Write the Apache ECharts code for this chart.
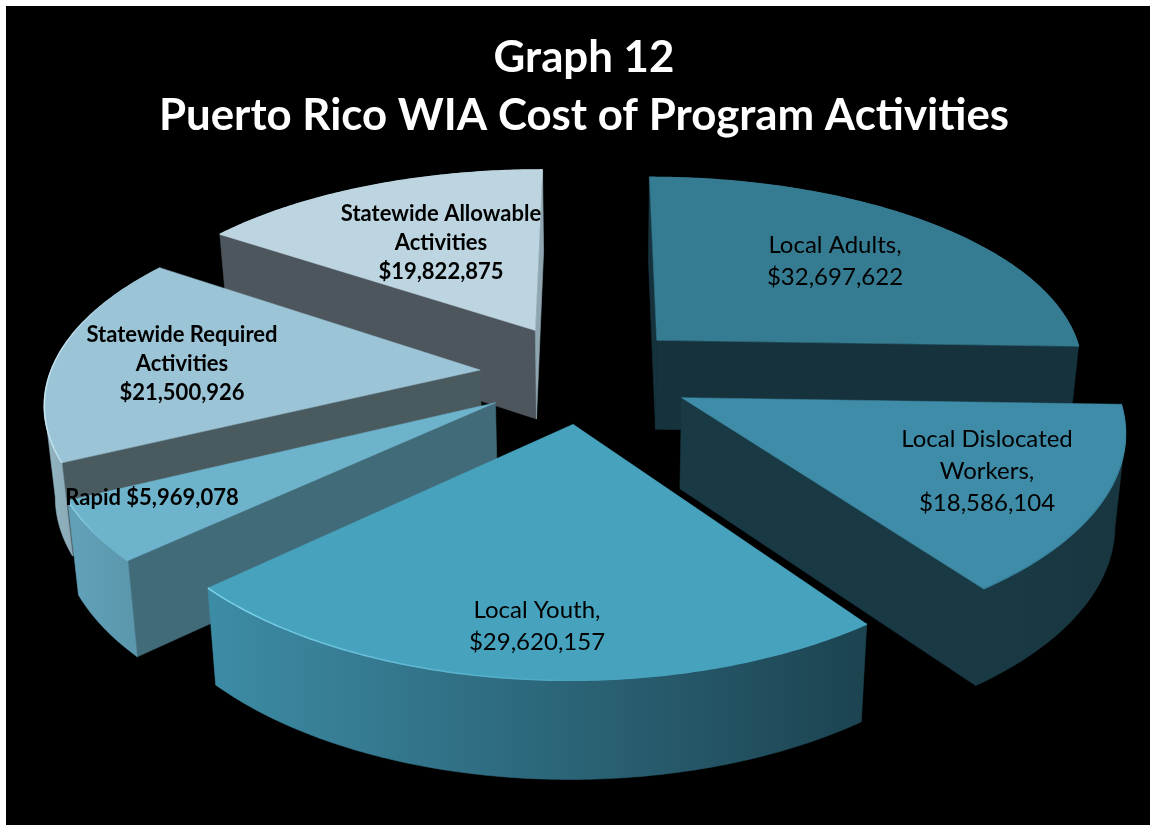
<!DOCTYPE html>
<html>
<head>
<meta charset="utf-8">
<title>Graph 12</title>
<script src="https://cdn.jsdelivr.net/npm/echarts@6/dist/echarts.min.js"></script>
<style>
    html, body { margin: 0; padding: 0; background: #fff; overflow: hidden; }
    .black_box { position: absolute; left: 6px; top: 6px; width: 1144px; height: 819px; background: #000; }
    #chart { position: absolute; left: 0; top: 0; width: 1150px; height: 825px; }
</style>
</head>
<body>
<div class="black_box"></div>
<div id="chart"></div>
<script>
// chart values, clockwise from 12 o'clock
const categories = ['Local Adults', 'Local Dislocated Workers', 'Local Youth', 'Rapid', 'Statewide Required Activities', 'Statewide Allowable Activities']
const values = [32697622, 18586104, 29620157, 5969078, 21500926, 19822875]
const labelPrefixes = ['Local Adults,\n', 'Local Dislocated\nWorkers,\n', 'Local Youth,\n', 'Rapid ', 'Statewide Required\nActivities\n', 'Statewide Allowable\nActivities\n']

// layout and look of the slices, same order as above
const explode = [[0.1446, -0.154], [0.1957, 0.1375], [-0.0514, 0.2646], [-0.229, 0.1616], [-0.27, 0], [-0.1457, -0.2072]]
const labelCenters = [[835, 261], [987, 471], [537, 626], [152, 498], [182, 364], [441, 243]]
const labelBold = [false, false, false, true, true, true]
const topColors = ['#357c93', '#3e8ca8', '#46a2bd', '#6db3cb', '#9bc5d6', '#bcd5e0']
const rimColors = [['#357c93', '#357c93'], ['#37809a', '#3a86a1'], ['#7dd3ea', '#46a2bd'], ['#92d4ea', '#6db3cb'], ['#c8e7f3', '#9bc5d6'], ['#bcd5e0', '#bcd5e0']]
const startWallColors = ['#16323c', '#193a45', '#1c4350', '#426b7a', '#4a5b60', '#4e565d']
const endWallColors = ['#16323c', '#193a45', '#3d8ca6', '#426b7a', '#4a5b60', '#8fa6b0']
const arcColors = [['#16323c', '#16323c'], ['#193a45', '#183640'], ['#3d8ca6', '#1c4350'], ['#62a2b9', '#5a96ac'], ['#93b4c2', '#8aaab8'], ['#9fb5bf', '#9fb5bf']]
// back to front
const drawOrder = [5, 0, 4, 3, 1, 2]

const CX = 596
const CY = 370
const RADIUS = 429
const TILT_RADIUS = 197
const PERSPECTIVE_X = 0.14
const PERSPECTIVE_Y = 0.156
const DEPTH = 90
const BOTTOM_SHRINK = 0.98

const total = values.reduce((sum, v) => sum + v, 0)
const formatMoney = v => '$' + v.toLocaleString('en-US')

function topPoint (x, y) {
    return [
        CX + RADIUS * x / (1 - PERSPECTIVE_X * y),
        CY + TILT_RADIUS * y / (1 - PERSPECTIVE_Y * y)
    ]
}

function bottomPoint (x, y) {
    const pt = topPoint(x, y)
    return [CX + (pt[0] - CX) * BOTTOM_SHRINK, pt[1] + DEPTH * (1 + 0.08 * y)]
}

function renderSlice (params, api) {
    const i = api.value(0)
    let startValue = 0
    for (let k = 0; k < i; k++) startValue += values[k]
    const a0 = startValue / total * Math.PI * 2
    const a1 = (startValue + values[i]) / total * Math.PI * 2
    const off = explode[i]
    const steps = Math.max(8, Math.round((a1 - a0) * 90))
    const world = []
    for (let s = 0; s <= steps; s++) {
        const a = a0 + (a1 - a0) * s / steps
        world.push([off[0] + Math.sin(a), off[1] - Math.cos(a)])
    }
    const children = []
    const wall = (pts, fill) => {
        const top = pts.map(p => topPoint(p[0], p[1]))
        const bottom = pts.map(p => bottomPoint(p[0], p[1])).reverse()
        // thin stroke in the same fill closes the seam between neighbouring walls
        children.push({ type: 'polygon', shape: { points: top.concat(bottom) }, style: { fill: fill, stroke: fill, lineWidth: 0.6 } })
    }
    // only walls running right to left on screen face the viewer
    const first = world[0]
    const last = world[world.length - 1]
    if (topPoint(first[0], first[1])[0] < topPoint(off[0], off[1])[0]) {
        wall([off, first], startWallColors[i])
    }
    if (topPoint(off[0], off[1])[0] < topPoint(last[0], last[1])[0]) {
        wall([last, off], endWallColors[i])
    }
    let run = []
    const runs = []
    for (let s = 0; s < steps; s++) {
        if (topPoint(world[s + 1][0], world[s + 1][1])[0] < topPoint(world[s][0], world[s][1])[0]) {
            if (!run.length) run.push(world[s])
            run.push(world[s + 1])
        } else if (run.length) {
            runs.push(run)
            run = []
        }
    }
    if (run.length) runs.push(run)
    runs.forEach(r => {
        wall(r, new echarts.graphic.LinearGradient(0, 0, 1, 0, [
            { offset: 0, color: arcColors[i][0] },
            { offset: 1, color: arcColors[i][1] }
        ]))
    })
    const arc = world.map(p => topPoint(p[0], p[1]))
    children.push({
        type: 'polygon',
        shape: { points: [topPoint(off[0], off[1])].concat(arc) },
        style: { fill: topColors[i], stroke: topColors[i], lineWidth: 0.5 }
    })
    children.push({
        type: 'polyline',
        shape: { points: arc },
        style: {
            fill: null,
            lineWidth: 1.5,
            stroke: new echarts.graphic.LinearGradient(0, 0, 1, 0, [
                { offset: 0, color: rimColors[i][0] },
                { offset: 0.6, color: rimColors[i][1] },
                { offset: 1, color: rimColors[i][1] }
            ])
        }
    })
    children.push({
        type: 'text',
        z2: 100,
        style: {
            text: labelPrefixes[i] + formatMoney(values[i]),
            x: labelCenters[i][0],
            y: labelCenters[i][1],
            fill: '#000',
            align: 'center',
            verticalAlign: 'middle',
            font: (labelBold[i] ? 'bold 22px' : '24px') + ' Lato',
            lineHeight: labelBold[i] ? 29 : 32
        }
    })
    return { type: 'group', children: children }
}

const myChart = echarts.init(document.getElementById('chart'), null, { renderer: 'canvas' })
myChart.setOption({
    animation: false,
    backgroundColor: 'transparent',
    title: {
        text: 'Graph 12\nPuerto Rico WIA Cost of Program Activities',
        left: 579,
        top: 24,
        textAlign: 'center',
        textStyle: { color: '#fff', fontFamily: 'Lato', fontWeight: 'bold', fontSize: 43.8, lineHeight: 58 }
    },
    series: [{
        type: 'custom',
        name: 'Cost of Program Activities',
        coordinateSystem: 'none',
        renderItem: renderSlice,
        data: drawOrder.map(i => ({ name: categories[i], value: [i, values[i]] }))
    }]
})
</script>
</body>
</html>
